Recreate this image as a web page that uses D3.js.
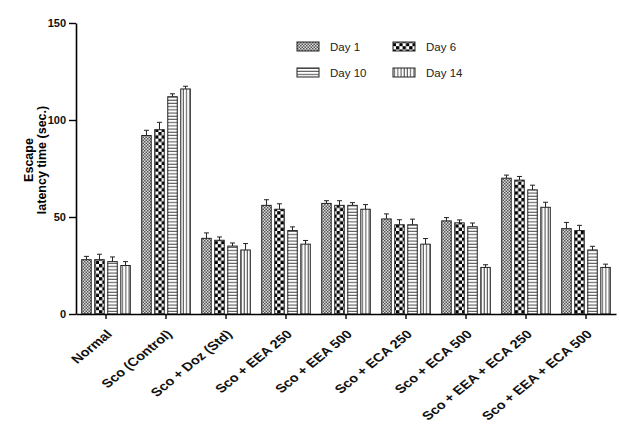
<!DOCTYPE html>
<html>
<head>
<meta charset="utf-8">
<script src="https://cdn.jsdelivr.net/npm/d3@7"></script>
<style>
  body { margin: 0; background: #fff; }
  svg text { font-family: "Liberation Sans", Arial, sans-serif; }
</style>
</head>
<body>
<svg width="619" height="428"></svg>
<script>
let categories = ['Normal', 'Sco (Control)', 'Sco + Doz (Std)', 'Sco + EEA 250', 'Sco + EEA 500',
    'Sco + ECA 250', 'Sco + ECA 500', 'Sco + EEA + ECA 250', 'Sco + EEA + ECA 500']
let series = ['Day 1', 'Day 6', 'Day 10', 'Day 14']

let day1 = [28, 92, 39, 56, 57, 49, 48, 70, 44]
let day6 = [28, 95, 38, 54, 56, 46, 47, 69, 43]
let day10 = [27, 112, 35, 43, 56, 46, 45, 64, 33]
let day14 = [25, 116, 33, 36, 54, 36, 24, 55, 24]

let day1Err = [1.7, 2.7, 2.8, 2.9, 1.4, 2.6, 1.7, 1.6, 3.2]
let day6Err = [2.8, 3.8, 1.7, 2.8, 2.4, 2.6, 1.5, 1.9, 2.7]
let day10Err = [2.4, 1.5, 1.6, 1.9, 1.4, 2.9, 1.9, 2.4, 1.9]
let day14Err = [2.0, 1.4, 3.3, 1.9, 2.4, 2.9, 1.4, 2.6, 1.7]

let yTicks = [0, 50, 100, 150]

let values = [day1, day6, day10, day14]
let errors = [day1Err, day6Err, day10Err, day14Err]
let fills = ['url(#p1)', 'url(#p6)', 'url(#p10)', 'url(#p14)']

let svg = d3.select('svg')

// patterns
let defs = svg.append('defs')
let p1 = defs.append('pattern').attr('id', 'p1').attr('patternUnits', 'userSpaceOnUse')
    .attr('width', 3).attr('height', 3)
p1.append('rect').attr('width', 3).attr('height', 3).attr('fill', '#ddd')
p1.append('rect').attr('width', 1.5).attr('height', 1.5).attr('fill', '#555')
p1.append('rect').attr('x', 1.5).attr('y', 1.5).attr('width', 1.5).attr('height', 1.5).attr('fill', '#555')

let p6 = defs.append('pattern').attr('id', 'p6').attr('patternUnits', 'userSpaceOnUse')
    .attr('width', 6.6).attr('height', 6.6)
p6.append('rect').attr('width', 6.6).attr('height', 6.6).attr('fill', '#fff')
p6.append('rect').attr('width', 3.3).attr('height', 3.3).attr('fill', '#000')
p6.append('rect').attr('x', 3.3).attr('y', 3.3).attr('width', 3.3).attr('height', 3.3).attr('fill', '#000')

let p10 = defs.append('pattern').attr('id', 'p10').attr('patternUnits', 'userSpaceOnUse')
    .attr('width', 4).attr('height', 3.2)
p10.append('rect').attr('width', 4).attr('height', 3.2).attr('fill', '#fff')
p10.append('line').attr('x1', 0).attr('x2', 4).attr('y1', 1).attr('y2', 1)
    .attr('stroke', '#333').attr('stroke-width', 0.9)

let p14 = defs.append('pattern').attr('id', 'p14').attr('patternUnits', 'userSpaceOnUse')
    .attr('width', 3.2).attr('height', 4)
p14.append('rect').attr('width', 3.2).attr('height', 4).attr('fill', '#fff')
p14.append('line').attr('x1', 1).attr('x2', 1).attr('y1', 0).attr('y2', 4)
    .attr('stroke', '#333').attr('stroke-width', 0.9)

// scales
let x0 = d3.scaleBand().domain(categories).range([76, 616]).paddingInner(0.19).paddingOuter(0.095)
let x1 = d3.scaleBand().domain(series).range([0, x0.bandwidth()]).paddingInner(0.27)
let y = d3.scaleLinear().domain([0, 150]).range([314, 23])

// bars
series.forEach((s, si) => {
    let g = svg.append('g')
    let rows = categories.map((c, ci) => ({ c: c, v: values[si][ci], e: errors[si][ci] }))

    g.selectAll('line.err')
        .data(rows)
        .enter()
        .append('line')
        .attr('x1', d => x0(d.c) + x1(s) + x1.bandwidth() / 2)
        .attr('x2', d => x0(d.c) + x1(s) + x1.bandwidth() / 2)
        .attr('y1', d => y(d.v))
        .attr('y2', d => y(d.v + d.e))
        .attr('stroke', '#222')
        .attr('stroke-width', 1)

    g.selectAll('line.cap')
        .data(rows)
        .enter()
        .append('line')
        .attr('x1', d => x0(d.c) + x1(s) + x1.bandwidth() / 2 - 2.5)
        .attr('x2', d => x0(d.c) + x1(s) + x1.bandwidth() / 2 + 2.5)
        .attr('y1', d => y(d.v + d.e))
        .attr('y2', d => y(d.v + d.e))
        .attr('stroke', '#222')
        .attr('stroke-width', 1)

    g.selectAll('rect')
        .data(rows)
        .enter()
        .append('rect')
        .attr('x', d => x0(d.c) + x1(s))
        .attr('y', d => y(d.v))
        .attr('width', x1.bandwidth())
        .attr('height', d => y(0) - y(d.v))
        .attr('fill', fills[si])
        .attr('stroke', '#222')
        .attr('stroke-width', 1)
})

// axes
let yAxis = svg.append('g')
    .attr('transform', 'translate(76,0)')
    .call(d3.axisLeft(y).tickValues(yTicks).tickSize(7).tickSizeOuter(0))
yAxis.select('.domain').attr('stroke-width', 1.6)
yAxis.selectAll('.tick line').attr('stroke-width', 1.4)
yAxis.selectAll('text')
    .attr('font-size', 11)
    .attr('font-weight', 'bold')
    .attr('fill', '#111')

let xAxis = svg.append('g')
    .attr('transform', 'translate(0,314)')
    .call(d3.axisBottom(x0).tickSize(5).tickSizeOuter(0))
xAxis.select('.domain').attr('stroke-width', 1.6)
xAxis.selectAll('.tick line').attr('stroke-width', 1.4)
xAxis.selectAll('text')
    .attr('x', 0)
    .attr('y', 0)
    .attr('dy', 0)
    .attr('text-anchor', 'end')
    .attr('transform', 'translate(7,21) scale(1.22,1) rotate(-45)')
    .attr('font-size', 12)
    .attr('font-weight', 'bold')
    .attr('fill', '#111')

// y label
let yLabel = svg.append('text')
    .attr('transform', 'translate(33,160) rotate(-90)')
    .attr('text-anchor', 'middle')
    .attr('font-size', 12.5)
    .attr('font-weight', 'bold')
yLabel.append('tspan').attr('x', 0).attr('dy', 0).text('Escape')
yLabel.append('tspan').attr('x', 0).attr('dy', 12.5).text('latency time (sec.)')

// legend
let legendX = [297, 393, 297, 393]
let legendY = [42, 42, 68, 68]
let legend = svg.append('g')
series.forEach((s, i) => {
    legend.append('rect')
        .attr('x', legendX[i])
        .attr('y', legendY[i])
        .attr('width', 22)
        .attr('height', 9)
        .attr('fill', fills[i])
        .attr('stroke', '#222')
        .attr('stroke-width', 1)
    legend.append('text')
        .attr('x', legendX[i] + 33)
        .attr('y', legendY[i] + 9)
        .attr('font-size', 11.5)
        .attr('fill', '#222')
        .text(s)
})
</script>
</body>
</html>
